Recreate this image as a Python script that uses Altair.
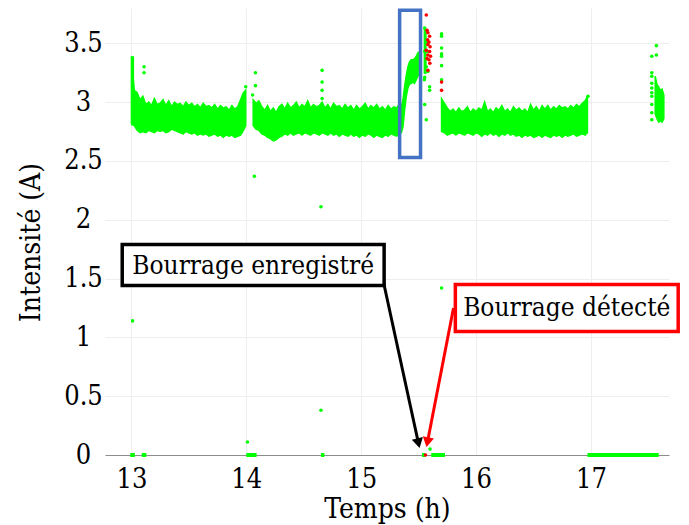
import altair as alt
import pandas as pd

# ---------------- data ----------------
# dense current band (time in h, upper / lower envelope in A)
A_t = [13.000, 13.025, 13.050, 13.075, 13.100, 13.125, 13.150, 13.175, 13.200, 13.225,
       13.250, 13.275, 13.300, 13.325, 13.350, 13.375, 13.400, 13.425, 13.450, 13.475,
       13.500, 13.525, 13.550, 13.575, 13.600, 13.625, 13.650, 13.675, 13.700, 13.725,
       13.750, 13.775, 13.800, 13.825, 13.850, 13.875, 13.900, 13.925, 13.950, 13.975, 13.995]
A_hi = [3.39, 3.10, 3.08, 3.02, 3.05, 2.98, 3.00, 2.97, 3.03, 2.98,
        2.99, 3.02, 2.97, 3.01, 2.96, 3.00, 2.98, 2.99, 2.96, 3.00,
        2.97, 2.99, 2.96, 2.98, 2.95, 2.99, 2.96, 2.97, 2.95, 2.98,
        2.94, 2.97, 2.95, 2.96, 2.93, 2.97, 2.94, 2.96, 3.02, 3.08, 3.10]
A_lo = [2.82, 2.80, 2.76, 2.74, 2.75, 2.74, 2.76, 2.75, 2.74, 2.76,
        2.75, 2.76, 2.74, 2.75, 2.77, 2.76, 2.75, 2.74, 2.73, 2.75,
        2.74, 2.73, 2.74, 2.72, 2.73, 2.72, 2.73, 2.71, 2.72, 2.73,
        2.71, 2.72, 2.70, 2.72, 2.71, 2.72, 2.70, 2.71, 2.72, 2.76, 2.80]

B_t = [14.060, 14.085, 14.110, 14.135, 14.160, 14.185, 14.210, 14.235, 14.260, 14.285,
       14.310, 14.335, 14.360, 14.385, 14.410, 14.435, 14.460, 14.485, 14.510, 14.535,
       14.560, 14.585, 14.610, 14.635, 14.660, 14.685, 14.710, 14.735, 14.760, 14.785,
       14.810, 14.835, 14.860, 14.885, 14.910, 14.935, 14.960, 14.985, 15.010, 15.035,
       15.060, 15.085, 15.110, 15.135, 15.160, 15.185, 15.210, 15.235, 15.260, 15.285,
       15.310, 15.335]
B_hi = [3.02, 2.99, 3.01, 2.96, 2.93, 2.97, 2.92, 2.95, 2.91, 2.96,
        2.98, 2.94, 2.99, 2.95, 2.97, 3.00, 2.95, 2.98, 2.96, 3.01,
        2.95, 2.98, 2.96, 2.97, 3.00, 2.95, 2.98, 2.94, 2.99, 2.96,
        2.97, 2.94, 2.98, 2.95, 2.97, 2.93, 2.97, 2.94, 2.96, 2.99,
        2.94, 2.97, 2.95, 2.98, 2.94, 2.96, 2.93, 2.97, 2.94, 2.96,
        2.95, 2.99]
B_lo = [2.80, 2.77, 2.76, 2.73, 2.72, 2.70, 2.69, 2.67, 2.68, 2.70,
        2.71, 2.73, 2.72, 2.74, 2.72, 2.73, 2.74, 2.72, 2.74, 2.73,
        2.72, 2.74, 2.73, 2.72, 2.74, 2.73, 2.72, 2.74, 2.72, 2.73,
        2.71, 2.73, 2.72, 2.71, 2.73, 2.71, 2.72, 2.70, 2.72, 2.71,
        2.73, 2.72, 2.70, 2.72, 2.71, 2.70, 2.72, 2.71, 2.73, 2.72,
        2.71, 2.74]

# current rise inside the blue frame
C_t = [15.335, 15.350, 15.364, 15.378, 15.393, 15.407, 15.420, 15.436, 15.450, 15.465,
       15.480, 15.494, 15.510]
C_hi = [2.99, 2.96, 3.02, 3.13, 3.23, 3.30, 3.34, 3.36, 3.36, 3.37, 3.39, 3.42, 3.43]
C_lo = [2.74, 2.74, 2.79, 2.93, 3.05, 3.12, 3.15, 3.16, 3.17, 3.16, 3.19, 3.22, 3.23]

D_t = [15.700, 15.725, 15.750, 15.775, 15.800, 15.825, 15.850, 15.875, 15.900, 15.925,
       15.950, 15.975, 16.000, 16.025, 16.050, 16.075, 16.100, 16.125, 16.150, 16.175,
       16.200, 16.225, 16.250, 16.275, 16.300, 16.325, 16.350, 16.375, 16.400, 16.425,
       16.450, 16.475, 16.500, 16.525, 16.550, 16.575, 16.600, 16.625, 16.650, 16.675,
       16.700, 16.725, 16.750, 16.775, 16.800, 16.825, 16.850, 16.875, 16.900, 16.925,
       16.950, 16.970]
D_hi = [3.03, 2.99, 2.95, 2.92, 2.94, 2.91, 2.95, 2.92, 2.93, 2.96,
        2.91, 2.94, 2.92, 2.95, 2.93, 3.00, 2.92, 2.94, 2.91, 2.95,
        2.93, 2.97, 2.92, 2.94, 2.91, 2.96, 2.93, 2.95, 2.92, 2.94,
        2.91, 2.98, 2.93, 2.96, 2.92, 2.97, 2.94, 2.97, 2.93, 2.96,
        2.94, 2.97, 2.95, 2.96, 2.94, 2.97, 2.95, 2.98, 2.96, 2.99,
        3.01, 3.05]
D_lo = [2.75, 2.74, 2.72, 2.73, 2.74, 2.72, 2.74, 2.73, 2.72, 2.74,
        2.73, 2.72, 2.74, 2.73, 2.71, 2.73, 2.72, 2.74, 2.72, 2.73,
        2.71, 2.73, 2.72, 2.74, 2.72, 2.73, 2.71, 2.72, 2.70, 2.72,
        2.71, 2.72, 2.70, 2.71, 2.72, 2.70, 2.72, 2.71, 2.70, 2.72,
        2.71, 2.72, 2.70, 2.72, 2.71, 2.72, 2.73, 2.71, 2.72, 2.73,
        2.72, 2.74]

E_t = [17.560, 17.575, 17.590, 17.605, 17.620, 17.635]
E_hi = [3.22, 3.15, 3.13, 3.10, 3.11, 3.06]
E_lo = [2.90, 2.86, 2.83, 2.84, 2.83, 2.86]

# narrow vertical runs of readings (time, top, bottom)
col_t = [13.010, 15.557]
col_hi = [3.39, 3.62]
col_lo = [2.80, 3.24]

# readings lying on 0 A (start / end time of each run)
zero_start = [12.99, 13.09, 14.00, 14.65, 15.53, 15.61, 16.97]
zero_end = [13.03, 13.13, 14.09, 14.68, 15.56, 15.73, 17.59]

# isolated green readings
green_t = [13.01, 14.07, 14.65, 14.65, 14.01, 15.70, 15.60,
           13.11, 13.11, 14.08, 14.08, 14.66, 14.66, 14.66, 14.66,
           15.553, 15.567, 15.553, 15.581, 15.567, 15.581, 15.553, 15.550, 15.596, 15.596, 15.553, 15.567,
           15.70, 15.70, 15.70, 15.70, 15.70, 15.70, 15.70,
           17.53, 17.53, 17.53, 17.53, 17.53, 17.53, 17.53, 17.53, 17.53, 17.53, 17.57, 17.57,
           16.975, 13.995, 14.055]
green_i = [1.14, 2.37, 2.11, 0.38, 0.11, 1.42, 0.05,
           3.30, 3.25, 3.25, 3.14, 3.27, 3.17, 3.10, 3.03,
           3.63, 3.51, 3.43, 3.43, 3.30, 3.26, 3.21, 3.19, 3.13, 3.10, 2.98, 2.85,
           3.58, 3.56, 3.46, 3.41, 3.39, 3.31, 3.19,
           3.39, 3.25, 3.22, 3.16, 3.12, 3.08, 3.05, 2.98, 2.91, 2.85, 3.48, 3.40,
           3.05, 3.13, 3.06]

# readings flagged in red (detection)
red_t = [15.567, 15.574, 15.581, 15.596, 15.578, 15.590, 15.581, 15.600, 15.567, 15.596,
         15.581, 15.604, 15.574, 15.590, 15.598, 15.581, 15.700, 15.700, 15.560]
red_i = [3.74, 3.61, 3.59, 3.56, 3.53, 3.51, 3.49, 3.47, 3.44, 3.43,
         3.40, 3.39, 3.37, 3.36, 3.33, 3.27, 3.17, 3.10, 0.00]

# annotations (data coordinates)
label_text = ["Bourrage enregistré", "Bourrage détecté"]
label_t = [14.06, 16.79]
label_i = [1.61, 1.25]
box_t1 = [12.92, 15.82]
box_t2 = [15.20, 17.76]
box_i1 = [1.44, 1.05]
box_i2 = [1.79, 1.45]
arrow_black_t = [15.19, 15.499]
arrow_black_i = [1.49, 0.100]
arrow_red_t = [15.804, 15.577]
arrow_red_i = [1.25, 0.109]
zoom_box_t = [15.335, 15.517]
zoom_box_i = [2.53, 3.78]

# ---------------- tables ----------------
seg = (["A"] * len(A_t) + ["B"] * len(B_t) + ["C"] * len(C_t)
       + ["D"] * len(D_t) + ["E"] * len(E_t))
band = pd.DataFrame({
    "t": A_t + B_t + C_t + D_t + E_t,
    "hi": A_hi + B_hi + C_hi + D_hi + E_hi,
    "lo": A_lo + B_lo + C_lo + D_lo + E_lo,
    "seg": seg,
})
cols = pd.DataFrame({"t": col_t, "hi": col_hi, "lo": col_lo})
zeros = pd.DataFrame({"t": zero_start, "t2": zero_end, "i": [0.0] * len(zero_start)})
greens = pd.DataFrame({"t": green_t, "i": green_i})
reds = pd.DataFrame({"t": red_t, "i": red_i})
labels = pd.DataFrame({"t": label_t, "i": label_i, "txt": label_text})
boxes = pd.DataFrame({"t": box_t1, "t2": box_t2, "i": box_i1, "i2": box_i2,
                      "c": ["black", "red"]})
arrow_b = pd.DataFrame({"t": arrow_black_t, "i": arrow_black_i})
arrow_r = pd.DataFrame({"t": arrow_red_t, "i": arrow_red_i})
zoom_box = pd.DataFrame({"t": [zoom_box_t[0]], "t2": [zoom_box_t[1]],
                         "i": [zoom_box_i[0]], "i2": [zoom_box_i[1]]})

FONT = "DejaVu Serif Condensed, DejaVu Serif, serif"
GREEN = "#00FF00"
TICK_FS = 27
TITLE_FS = 28
ANN_FS = 26

xs = alt.Scale(domain=[12.77, 17.68], nice=False, zero=False)
ys = alt.Scale(domain=[0, 3.8], nice=False)

x_axis = alt.Axis(values=[13, 14, 15, 16, 17], format="d", title="Temps (h)",
                  grid=True, gridColor="#eeeeee", ticks=False, tickSize=0,
                  labelPadding=11, labelFontSize=TICK_FS, labelFont=FONT, labelColor="black",
                  domain=True, domainColor="#8c8c8c", domainWidth=1.2,
                  titleFont=FONT, titleFontSize=TITLE_FS, titleFontWeight="normal",
                  titleColor="black", titleY=62, titleBaseline="alphabetic")
y_axis = alt.Axis(values=[0, 0.5, 1, 1.5, 2, 2.5, 3, 3.5], format="~g", title="Intensité (A)",
                  grid=True, gridColor="#eeeeee", ticks=False, tickSize=0, domain=False,
                  labelAlign="center", labelBaseline="middle", labelPadding=22,
                  labelFontSize=TICK_FS, labelFont=FONT, labelColor="black",
                  titleFont=FONT, titleFontSize=TITLE_FS, titleFontWeight="normal",
                  titleColor="black", titleX=-74, titleY=234, titleBaseline="middle")

band_layer = alt.Chart(band).mark_area(color=GREEN, opacity=1, stroke=GREEN,
                                       strokeWidth=1.5).encode(
    x=alt.X("t:Q", scale=xs, axis=x_axis),
    y=alt.Y("lo:Q", scale=ys, axis=y_axis), y2="hi:Q", detail="seg:N")

col_layer = alt.Chart(cols).mark_rule(color=GREEN, strokeWidth=3).encode(
    x=alt.X("t:Q", scale=xs), y=alt.Y("lo:Q", scale=ys), y2="hi:Q")

zero_layer = alt.Chart(zeros).mark_rule(color=GREEN, strokeWidth=4).encode(
    x=alt.X("t:Q", scale=xs), x2="t2:Q", y=alt.Y("i:Q", scale=ys))

green_layer = alt.Chart(greens).mark_circle(color=GREEN, size=13, opacity=1).encode(
    x=alt.X("t:Q", scale=xs), y=alt.Y("i:Q", scale=ys))

red_layer = alt.Chart(reds).mark_circle(color="#FF0000", size=13, opacity=1).encode(
    x=alt.X("t:Q", scale=xs), y=alt.Y("i:Q", scale=ys))

zoom_layer = alt.Chart(zoom_box).mark_rect(fillOpacity=0, stroke="#4472C4", strokeWidth=3.5).encode(
    x=alt.X("t:Q", scale=xs), x2="t2:Q", y=alt.Y("i:Q", scale=ys), y2="i2:Q")

box_layer = alt.Chart(boxes).mark_rect(fill="white", strokeWidth=3.5).encode(
    x=alt.X("t:Q", scale=xs), x2="t2:Q", y=alt.Y("i:Q", scale=ys), y2="i2:Q",
    stroke=alt.Stroke("c:N", scale=None))

text_layer = alt.Chart(labels).mark_text(font=FONT, fontSize=ANN_FS, color="black",
                                         align="center", baseline="middle").encode(
    x=alt.X("t:Q", scale=xs), y=alt.Y("i:Q", scale=ys), text="txt:N")

shaft_b = alt.Chart(arrow_b).mark_line(color="black", strokeWidth=3).encode(
    x=alt.X("t:Q", scale=xs), y=alt.Y("i:Q", scale=ys))
shaft_r = alt.Chart(arrow_r).mark_line(color="#FF0000", strokeWidth=3).encode(
    x=alt.X("t:Q", scale=xs), y=alt.Y("i:Q", scale=ys))
head_b = alt.Chart(arrow_b.tail(1)).mark_point(shape="triangle-down", filled=True, size=130,
                                               color="black", opacity=1, angle=346.7).encode(
    x=alt.X("t:Q", scale=xs), y=alt.Y("i:Q", scale=ys))
head_r = alt.Chart(arrow_r.tail(1)).mark_point(shape="triangle-down", filled=True, size=130,
                                               color="#FF0000", opacity=1, angle=11).encode(
    x=alt.X("t:Q", scale=xs), y=alt.Y("i:Q", scale=ys))

chart = alt.layer(
    band_layer, col_layer, zero_layer, green_layer, red_layer, zoom_layer,
    shaft_b, shaft_r, head_b, head_r, box_layer, text_layer
).properties(
    width=564, height=447,
    autosize=alt.AutoSizeParams(type="none"),
    padding={"left": 97, "top": 0, "right": 12, "bottom": 70},
    background="white",
).configure_view(stroke=None)

chart.save("out.html", embed_options={"renderer": "svg", "actions": False})
